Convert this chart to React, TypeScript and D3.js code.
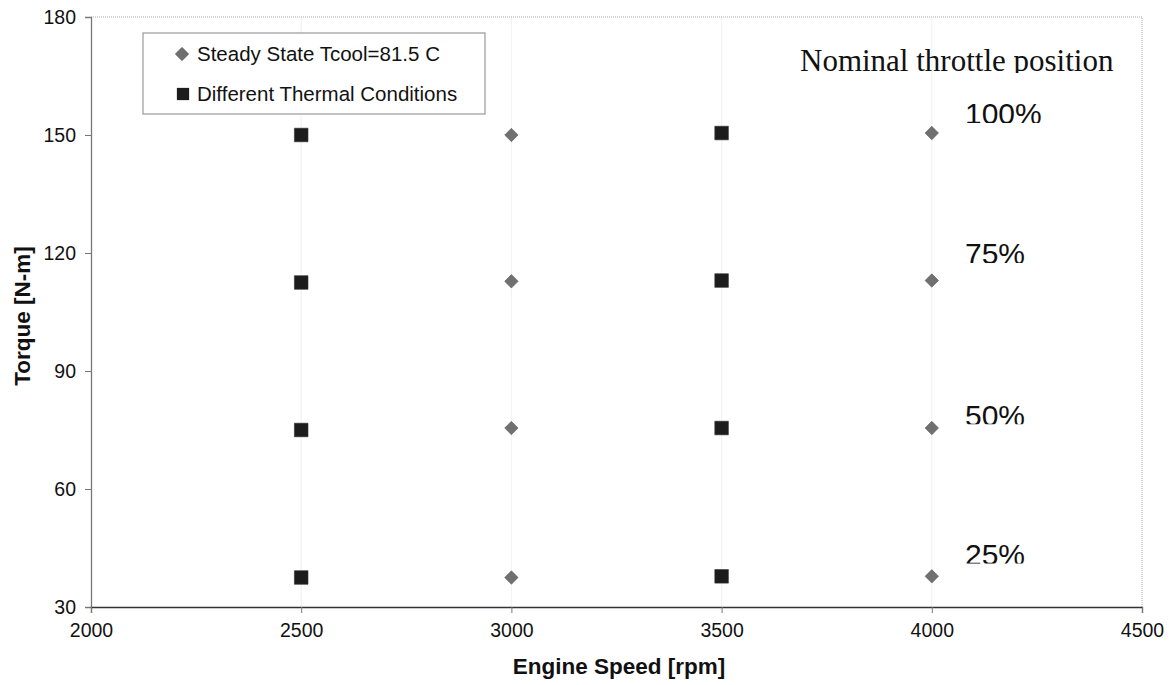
import React, { useEffect, useRef } from 'react';
import * as d3 from 'd3';

// engine speed [rpm] / torque [N-m]
const steadySpeed = [3000, 3000, 3000, 3000, 4000, 4000, 4000, 4000];
const steadyTorque = [150, 112.8, 75.5, 37.5, 150.5, 113, 75.5, 37.8];
const thermalSpeed = [2500, 2500, 2500, 2500, 3500, 3500, 3500, 3500];
const thermalTorque = [150, 112.5, 75, 37.5, 150.5, 113, 75.5, 37.8];

const xTicks = [2000, 2500, 3000, 3500, 4000, 4500];
const yTicks = [30, 60, 90, 120, 150, 180];

const throttleLabels = ['100%', '75%', '50%', '25%'];
const throttleLabelTorque = [152.7, 117.1, 76.1, 40.7];

const legendNames = ['Steady State Tcool=81.5 C', 'Different Thermal Conditions'];

const App = () => {
  const svgRef = useRef(null);
  const width = 1169;
  const height = 685;

  useEffect(() => {
    const svg = d3.select(svgRef.current);
    svg.selectAll('*').remove();

    const margin = { top: 17, right: 27, bottom: 78, left: 91 };
    const x = d3.scaleLinear().domain([2000, 4500]).range([margin.left, width - margin.right]);
    const y = d3.scaleLinear().domain([30, 180]).range([height - margin.bottom, margin.top]);
    const sans = 'Arial, "Liberation Sans", sans-serif';

    svg.append('rect').attr('width', width).attr('height', height).attr('fill', '#fff');

    // very faint vertical gridlines
    svg.append('g')
      .selectAll('line')
      .data(xTicks.slice(1, -1))
      .enter()
      .append('line')
      .attr('x1', d => x(d)).attr('x2', d => x(d))
      .attr('y1', y(180)).attr('y2', y(30))
      .attr('stroke', '#f3f3f3')
      .attr('stroke-width', 1.2);

    // dotted plot border (top/right)
    svg.append('path')
      .attr('d', `M${x(2000)},${y(180)}H${x(4500)}V${y(30)}`)
      .attr('fill', 'none')
      .attr('stroke', '#aaa')
      .attr('stroke-width', 1)
      .attr('stroke-dasharray', '1,1');

    // y axis
    const yAxis = svg.append('g')
      .attr('transform', `translate(${x(2000)},0)`)
      .call(d3.axisLeft(y).tickValues(yTicks).tickSize(6).tickPadding(9));
    yAxis.select('.domain').attr('stroke', '#777').attr('stroke-width', 1.3);
    yAxis.selectAll('.tick line').attr('stroke', '#777');
    yAxis.selectAll('text')
      .attr('font-family', sans)
      .attr('font-size', 19.5)
      .attr('fill', '#111');

    // x axis
    const xAxis = svg.append('g')
      .attr('transform', `translate(0,${y(30)})`)
      .call(d3.axisBottom(x).tickValues(xTicks).tickSize(6).tickPadding(10).tickFormat(d3.format('d')));
    xAxis.select('.domain').attr('stroke', '#333').attr('stroke-width', 1.3);
    xAxis.selectAll('.tick line').attr('stroke', '#777');
    xAxis.selectAll('text')
      .attr('font-family', sans)
      .attr('font-size', 19.5)
      .attr('fill', '#111');

    // axis titles
    svg.append('text')
      .attr('x', 619)
      .attr('y', 674)
      .attr('text-anchor', 'middle')
      .attr('font-family', sans)
      .attr('font-weight', 'bold')
      .attr('font-size', 22.5)
      .attr('fill', '#111')
      .text('Engine Speed [rpm]');

    svg.append('text')
      .attr('transform', `translate(30,${316}) rotate(-90)`)
      .attr('text-anchor', 'middle')
      .attr('font-family', sans)
      .attr('font-weight', 'bold')
      .attr('font-size', 22.5)
      .attr('fill', '#111')
      .text('Torque [N-m]');

    const diamond = d3.symbol().type(d3.symbolDiamond2).size(115);
    const square = d3.symbol().type(d3.symbolSquare).size(185);

    // thermal conditions (squares)
    svg.append('g')
      .selectAll('path')
      .data(thermalSpeed.map((s, i) => [s, thermalTorque[i]]))
      .enter()
      .append('path')
      .attr('transform', d => `translate(${x(d[0])},${y(d[1])})`)
      .attr('d', square)
      .attr('fill', '#1c1c1c')
      .attr('stroke', '#333')
      .attr('stroke-width', 0.6);

    // steady state (diamonds)
    svg.append('g')
      .selectAll('path')
      .data(steadySpeed.map((s, i) => [s, steadyTorque[i]]))
      .enter()
      .append('path')
      .attr('transform', d => `translate(${x(d[0])},${y(d[1])})`)
      .attr('d', diamond)
      .attr('fill', '#707070')
      .attr('stroke', '#5a5a5a')
      .attr('stroke-width', 0.6);

    // annotations, clipped at the bottom like the original text boxes
    const defs = svg.append('defs');
    defs.append('clipPath').attr('id', 'clip-title')
      .append('rect').attr('x', 780).attr('y', 30).attr('width', 360).attr('height', 43);
    svg.append('text')
      .attr('x', 800)
      .attr('y', 71)
      .attr('font-family', '"Times New Roman", "Liberation Serif", serif')
      .attr('font-size', 31)
      .attr('fill', '#111')
      .attr('clip-path', 'url(#clip-title)')
      .text('Nominal throttle position');

    throttleLabels.forEach((label, i) => {
      const base = y(throttleLabelTorque[i]);
      defs.append('clipPath').attr('id', `clip-t${i}`)
        .append('rect').attr('x', 950).attr('y', base - 40).attr('width', 120).attr('height', 38.5);
      svg.append('text')
        .attr('x', 965)
        .attr('y', base)
        .attr('font-family', sans)
        .attr('font-size', 30)
        .attr('fill', '#111')
        .attr('clip-path', `url(#clip-t${i})`)
        .text(label);
    });

    // legend
    const legend = svg.append('g').attr('transform', 'translate(143,33)');
    legend.append('rect')
      .attr('width', 342)
      .attr('height', 81)
      .attr('fill', '#fff')
      .attr('stroke', '#999')
      .attr('stroke-width', 1.2);
    legend.append('path')
      .attr('transform', 'translate(39,21)')
      .attr('d', diamond)
      .attr('fill', '#707070')
      .attr('stroke', '#5a5a5a')
      .attr('stroke-width', 0.6);
    legend.append('path')
      .attr('transform', 'translate(40,61)')
      .attr('d', d3.symbol().type(d3.symbolSquare).size(150))
      .attr('fill', '#1c1c1c');
    legend.selectAll('text.lg')
      .data(legendNames)
      .enter()
      .append('text')
      .attr('class', 'lg')
      .attr('x', 54)
      .attr('y', (d, i) => 28 + i * 40)
      .attr('font-family', sans)
      .attr('font-size', 20.5)
      .attr('fill', '#111')
      .text(d => d);
  }, []);

  return (
    <svg ref={svgRef} width={width} height={height} style={{ position: 'absolute', left: 0, top: 0 }}></svg>
  );
};

export default App;
